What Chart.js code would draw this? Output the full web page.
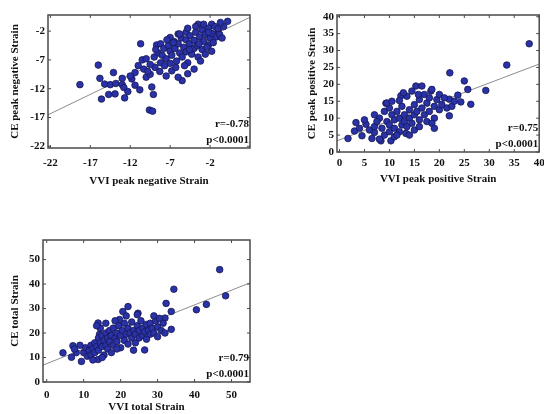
<!DOCTYPE html>
<html>
<head>
<meta charset="utf-8">
<script src="https://cdn.jsdelivr.net/npm/chart.js@4.4.0/dist/chart.umd.min.js"></script>
<style>
    body { margin: 0; background: #fff; width: 544px; height: 414px; overflow: hidden; position: relative; }
    .panel { position: absolute; }
</style>
</head>
<body>
<div class="panel" style="left:0;top:0;width:272px;height:192px"><canvas id="negChart"></canvas></div>
<div class="panel" style="left:290px;top:0;width:254px;height:190px"><canvas id="posChart"></canvas></div>
<div class="panel" style="left:0;top:230px;width:272px;height:184px"><canvas id="totChart"></canvas></div>

<script>
// peak negative strain (VVI on x, CE on y)
const negVvi = [-18.3, -16, -15.8, -15.6, -15.2, -14.5, -14.1, -14.7, -13.9, -13.8, -13, -12.8, -12.7, -11.8, -11.4,
    -10.7, -10.5, -10.3, -11.4, -10, -9.3, -9.1, -9.6, -9.2, -9.5, -8.9, -8.7, -8.2, -7, -6,
    -5, -3.5, -1.8, 0.2, -1, -2.2, -6.8, -5.5, -6, -8.2, -12.3, -10.8, -7.5, -4.8,
    -9, -8.5, -8, -7.8, -7.5, -7.2, -7, -6.8, -6.5, -6.4, -6.2, -6, -5.8, -5.6, -5.5,
    -5.3, -5, -5, -4.8, -4.6, -4.5, -4.3, -4, -4, -3.8, -3.6, -3.5, -3.3, -3, -3,
    -2.8, -2.6, -2.4, -2.2, -2, -1.8, -1.6, -1.4, -1.2, -1, -0.8, -0.5, -0.3, -6.3, -7.7,
    -8.3, -9.5, -10, -7, -5.2, -4, -3.2, -2.6, -1.8, -5.8, -4.8, -3.8, -2.8, -0.7, -2.2,
    -3.4, -4.6, -6.6, -7.4, -8.8, -9.8, -11, -12, -13];
const negCe = [-11.3, -7.9, -10.2, -13.8, -11.2, -11.3, -9.2, -13, -12.9, -11.1, -11.3, -11.8, -13.6, -10.3, -9.2,
    -4.2, -7, -8.6, -11.4, -10, -11.7, -13, -15.7, -15.9, -9.5, -8.3, -4.4, -4.2, -3.1, -2.5,
    -2.2, -0.8, -0.8, -0.3, -2, -4.4, -8.9, -10.6, -10, -7.5, -12.5, -12.2, -9.8, -9.4,
    -6.5, -5.8, -6.2, -5, -6.8, -4.5, -5.5, -6.2, -3.8, -5, -7.2, -4.2, -5.8, -3.2, -6.5,
    -4.8, -3.5, -5.6, -7.5, -4.2, -2.8, -6, -3.6, -5, -2.2, -4.5, -6.5, -3, -1.8, -5.2,
    -3.8, -2.6, -4.8, -1.5, -3.2, -2.4, -4, -1.2, -3, -1.6, -2.6, -3.2, -1.2, -8.3, -8,
    -9, -7.8, -6.8, -7.6, -8, -8.6, -7.2, -6, -5.5, -2.5, -1.5, -1.2, -0.8, -0.5, -2.2,
    -4.2, -5.2, -4, -3.5, -5.2, -9, -8, -9.8, -10.2];
const negFit = [0.67, -1.6]; // slope, intercept
const negTicks = [-22, -17, -12, -7, -2];
const negStats = ['r=-0.78', 'p<0.0001'];

// peak positive strain
const posVvi = [38, 33.5, 22.1, 25, 25.7, 29.3, 23.7, 24.3, 26.3, 12.3, 9.3, 15.3, 18.3, 22, 22,
    13.3, 1.7, 3.3, 5.3, 4.5, 7, 8.3, 10.3,
    8, 8.5, 9, 9, 9.5, 10, 10, 10, 10.5, 11, 11, 11, 11.5, 12, 12, 12.5, 12.5, 13, 13, 13.5,
    14, 14, 14.5, 15, 15, 15, 15.5, 16, 16, 16.5, 17, 17, 17.5, 18, 18, 18.5, 19, 19, 19.5,
    20, 20, 20.5, 21, 21.5, 6, 7, 7.5, 7, 6.5, 8, 9.5, 12, 13.5, 14.5, 16.5, 17.5, 18.5, 19,
    22.5, 23, 14, 10.5, 11.5, 16, 5, 4, 3, 12.8, 15.8];
const posCe = [32, 25.7, 23.4, 21, 18.5, 18.2, 16.8, 14.8, 14.1, 16.6, 14.4, 19.5, 18, 15.6, 10.7,
    5.5, 4, 8.7, 8.2, 4.8, 5.8, 3.3, 3.3,
    10, 7, 12, 5, 9, 13, 8, 6, 11, 4.5, 9.5, 7, 12, 10, 6, 8, 13.5, 11, 9, 7.5,
    12.5, 10, 8.5, 14, 11, 6.5, 12, 9.5, 15.5, 13, 11, 17, 14.5, 12, 16, 18.5, 13.5, 10, 15.5,
    17, 12.5, 14, 16, 13, 6.5, 7.5, 9, 11, 4, 3.8, 14.5, 15.2, 16.5, 18, 19.5, 9, 8.5, 7,
    13.5, 15, 5, 15, 5, 7.5, 9.5, 7, 6.2, 17.5, 17];
const posFit = [0.56, 3.6];
const posTicksX = [0, 5, 10, 15, 20, 25, 30, 35, 40];
const posTicksY = [0, 5, 10, 15, 20, 25, 30, 35, 40];
const posStats = ['r=0.75', 'p<0.0001'];

// total strain
const totVvi = [46.8, 48.4, 34.4, 40.5, 43.2, 32.3, 33.7, 32, 33.7, 26.5, 22, 20.6, 24.7, 19.7, 13.9,
    14.3, 4.4, 6.7, 9.4, 13.9, 7.1,
    10, 10.5, 11, 11.5, 12, 12, 12.5, 13, 13, 13.5, 14, 14, 14.5, 14.5, 15, 15, 15.5, 16, 16,
    16.5, 16.5, 17, 17, 17.5, 18, 18, 18.5, 18.5, 19, 19, 19.5, 20, 20, 20.5, 21, 21, 21.5,
    22, 22, 22.5, 23, 23, 23.5, 24, 24, 24.5, 25, 25, 25.5, 26, 26, 26.5, 27, 27, 27.5, 28,
    28, 28.5, 29, 29.5, 30, 30, 31, 31.5, 32, 17.5, 19, 23.5, 15.5, 9, 8, 7.5, 13.5, 16,
    21.5, 24.5, 29, 30.5, 12.5, 15];
const totCe = [45.9, 35.2, 37.9, 29.5, 31.7, 32.1, 28.8, 26.1, 21.5, 13.1, 30.8, 28.8, 28.1, 25.5, 24.1,
    19.5, 11.9, 10.1, 8.4, 9.2, 14.8,
    12, 14, 10.5, 13, 15, 11, 13.5, 16, 12, 14.5, 18, 13, 22, 16, 14.5, 19, 17, 15, 20,
    13.5, 18, 16.5, 21, 19, 15, 22, 18, 25, 20, 16.5, 23, 19, 14, 21, 17, 24, 19.5,
    22, 15.5, 20, 18, 24.5, 21, 19.5, 16, 23, 21, 18, 25, 22, 19, 20.5, 23.5, 17.5, 21, 24,
    19.5, 22, 20, 25, 22.5, 18.5, 21, 24, 20, 12, 13.5, 13, 11, 15, 12, 13.5, 23, 24,
    27, 27.5, 27, 26, 9, 10];
const totFit = [0.6, 7.5];
const totTicksX = [0, 10, 20, 30, 40, 50];
const totTicksY = [0, 10, 20, 30, 40, 50];
const totStats = ['r=0.79', 'p<0.0001'];

const serif = "'Liberation Serif', 'DejaVu Serif', serif";

// box frame with inward ticks on all four sides, plus r / p text
const boxPlugin = {
    id: 'statBox',
    afterDraw(chart, args, opts) {
        const ctx = chart.ctx;
        const a = chart.chartArea;
        const xs = chart.scales.x;
        const ys = chart.scales.y;
        ctx.save();
        ctx.strokeStyle = '#4a4a4a';
        ctx.lineWidth = 1.5;
        ctx.strokeRect(a.left, a.top, a.right - a.left, a.bottom - a.top);
        ctx.lineWidth = 1;
        ctx.beginPath();
        xs.ticks.forEach(t => {
            const px = xs.getPixelForValue(t.value);
            ctx.moveTo(px, a.bottom); ctx.lineTo(px, a.bottom - 3);
            ctx.moveTo(px, a.top); ctx.lineTo(px, a.top + 3);
        });
        ys.ticks.forEach(t => {
            const py = ys.getPixelForValue(t.value);
            ctx.moveTo(a.left, py); ctx.lineTo(a.left + 3, py);
            ctx.moveTo(a.right, py); ctx.lineTo(a.right - 3, py);
        });
        ctx.stroke();

        ctx.fillStyle = '#111';
        ctx.font = 'bold 11px ' + serif;
        ctx.textAlign = 'right';
        ctx.textBaseline = 'middle';
        ctx.fillText(opts.lines[0], a.right - 1, a.bottom - 24);
        ctx.fillText(opts.lines[1], a.right - 1, a.bottom - 8);
        ctx.restore();
    }
};

function fixedTicks(values) {
    return function(scale) {
        scale.ticks = values.map(v => ({ value: v }));
    };
}

function makeScatter(id, cfg) {
    const points = cfg.xs.map((x, i) => ({ x: x, y: cfg.ys[i] }));
    const fitLine = [cfg.xMin, cfg.xMax].map(x => ({ x: x, y: cfg.fit[0] * x + cfg.fit[1] }));
    const tickFont = { family: serif, size: 11, weight: 'bold' };

    new Chart(document.getElementById(id), {
        type: 'scatter',
        data: {
            datasets: [{
                data: points,
                backgroundColor: 'rgb(42, 50, 168)',
                borderColor: 'rgb(22, 22, 80)',
                borderWidth: 0.8,
                pointRadius: 3.3
            }, {
                type: 'line',
                data: fitLine,
                borderColor: '#8c8c8c',
                borderWidth: 1,
                pointRadius: 0,
                fill: false
            }]
        },
        options: {
            responsive: true,
            maintainAspectRatio: false,
            animation: false,
            layout: { padding: cfg.padding },
            plugins: {
                legend: { display: false },
                tooltip: { enabled: false },
                statBox: { lines: cfg.stats }
            },
            scales: {
                x: {
                    type: 'linear',
                    min: cfg.xMin,
                    max: cfg.xMax,
                    grid: { display: false, drawTicks: false, tickLength: 0 },
                    border: { display: false },
                    afterBuildTicks: fixedTicks(cfg.xTicks),
                    afterFit: function(scale) {
                        scale.height = cfg.xHeight;
                        scale.paddingLeft = 0;
                        scale.paddingRight = 0;
                    },
                    ticks: { color: '#111', padding: cfg.xTickPad, maxRotation: 0, font: tickFont },
                    title: { display: true, text: cfg.xTitle, color: '#111', padding: cfg.xTitlePad, font: tickFont }
                },
                y: {
                    type: 'linear',
                    min: cfg.yMin,
                    max: cfg.yMax,
                    grid: { display: false, drawTicks: false, tickLength: 0 },
                    border: { display: false },
                    afterBuildTicks: fixedTicks(cfg.yTicks),
                    afterFit: function(scale) {
                        scale.width = cfg.yWidth;
                        scale.paddingTop = 0;
                        scale.paddingBottom = 0;
                    },
                    ticks: { color: '#111', padding: 3, font: tickFont },
                    title: { display: true, text: cfg.yTitle, color: '#111', padding: { top: cfg.yTitleOffset, bottom: 0 }, font: tickFont }
                }
            }
        },
        plugins: [boxPlugin]
    });
}

makeScatter('negChart', {
    xs: negVvi, ys: negCe, fit: negFit, stats: negStats,
    xMin: -22.3, xMax: 3, yMin: -22.3, yMax: 0.8,
    xTicks: negTicks, yTicks: negTicks,
    xTitle: 'VVI peak negative Strain', yTitle: 'CE peak negative Strain',
    padding: { top: 15, right: 22, bottom: 0, left: 0 },
    xHeight: 44, yWidth: 48, xTickPad: 9, xTitlePad: { top: 0, bottom: 4 }, yTitleOffset: 9
});

makeScatter('posChart', {
    xs: posVvi, ys: posCe, fit: posFit, stats: posStats,
    xMin: -0.5, xMax: 40, yMin: 0, yMax: 40.5,
    xTicks: posTicksX, yTicks: posTicksY,
    xTitle: 'VVI peak positive Strain', yTitle: 'CE peak positive Strain',
    padding: { top: 15, right: 3, bottom: 0, left: 0 },
    xHeight: 38, yWidth: 47, xTickPad: 5, xTitlePad: { top: 0, bottom: 4 }, yTitleOffset: 16
});

makeScatter('totChart', {
    xs: totVvi, ys: totCe, fit: totFit, stats: totStats,
    xMin: -1, xMax: 55, yMin: 0, yMax: 58,
    xTicks: totTicksX, yTicks: totTicksY,
    xTitle: 'VVI total Strain', yTitle: 'CE total Strain',
    padding: { top: 10, right: 22, bottom: 0, left: 0 },
    xHeight: 32, yWidth: 43, xTickPad: 7, xTitlePad: { top: 0, bottom: 0 }, yTitleOffset: 9
});
</script>
</body>
</html>
